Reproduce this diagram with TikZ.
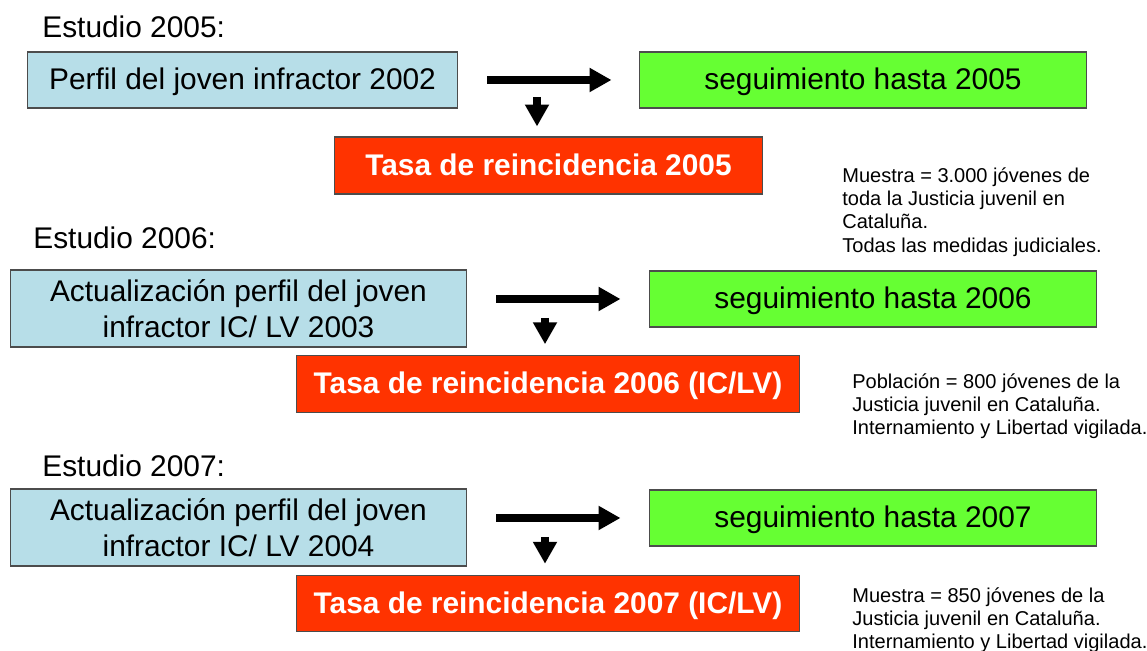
\documentclass[tikz,border=0pt]{standalone}
\usepackage{fontspec}
\setmainfont{Liberation Sans}
\usetikzlibrary{arrows.meta}
\usetikzlibrary{positioning}

\definecolor{perfilazul}{HTML}{B7DEE8}
\definecolor{seguiverde}{HTML}{66FF33}
\definecolor{tasarojo}{HTML}{FF3300}

\begin{document}
\begin{tikzpicture}[x=0.02cm,y=-0.02cm]
\tikzstyle{perfil}=[rectangle,draw=black!70,fill=perfilazul,line width=0.6pt,
inner sep=0pt,minimum width=9.14cm,minimum height=1.54cm,align=center,
font=\fontsize{17}{20.5}\selectfont]
\tikzstyle{seguimiento}=[rectangle,draw=black!70,fill=seguiverde,line width=0.6pt,
inner sep=0pt,minimum width=8.96cm,minimum height=1.12cm,
text height=12.3pt,text depth=1pt,font=\fontsize{17}{20.5}\selectfont]
\tikzstyle{tasa}=[rectangle,draw=black!70,fill=tasarojo,line width=0.6pt,
inner sep=0pt,minimum width=10.08cm,minimum height=1.13cm,text=white,
text height=12.3pt,text depth=1pt,font=\fontsize{17}{20.5}\selectfont\bfseries]
\tikzstyle{estudio}=[anchor=base west,inner sep=0pt,font=\fontsize{17}{20.5}\selectfont]
\tikzstyle{nota}=[anchor=north west,inner sep=0pt,align=left,
font=\fontsize{11.4}{13.3}\selectfont]
\tikzstyle{flecha}=[line width=4.6pt,-{Triangle[length=12.5pt,width=13pt]}]
\useasboundingbox (0,0) rectangle (1147,651);

% Estudio 2005
\node[estudio] (titulo2005) at (42,38) {Estudio 2005:};
\node[perfil,minimum width=8.62cm,minimum height=1.12cm,text height=12.3pt,text depth=1pt] (perfil2005) at (242.5,80) {Perfil del joven infractor 2002};
\node[seguimiento] (seguimiento2005) at (863,80) {seguimiento hasta 2005};
\node[tasa,minimum width=8.58cm,minimum height=1.14cm] (tasa2005) at (548.5,165.5) {Tasa de reincidencia 2005};
\node[nota] (nota2005) at (842,167) {Muestra = 3.000 jóvenes de\\toda la Justicia juvenil en\\Cataluña.\\Todas las medidas judiciales.};
\coordinate (baja2005) at (537,97);
\draw[flecha] ([xshift=0.58cm]perfil2005.east) -- ([xshift=-0.54cm]seguimiento2005.west);
\draw[flecha] (baja2005) -- ([yshift=0.2cm]baja2005 |- tasa2005.north);

% Estudio 2006
\node[estudio] (titulo2006) at (33,249) {Estudio 2006:};
\node[perfil] (perfil2006) at (238.5,308.5) {Actualización perfil del joven\\infractor IC/ LV 2003};
\node[seguimiento] (seguimiento2006) at (873,299) {seguimiento hasta 2006};
\node[tasa] (tasa2006) at (548,384) {Tasa de reincidencia 2006 (IC/LV)};
\node[nota] (nota2006) at (852,373) {Población = 800 jóvenes de la\\Justicia juvenil en Cataluña.\\Internamiento y Libertad vigilada.};
\coordinate (lado2006) at (perfil2006.east |- seguimiento2006.west);
\coordinate (baja2006) at (545,318);
\draw[flecha] ([xshift=0.58cm]lado2006) -- ([xshift=-0.56cm]seguimiento2006.west);
\draw[flecha] (baja2006) -- ([yshift=0.22cm]baja2006 |- tasa2006.north);

% Estudio 2007
\node[estudio] (titulo2007) at (42,477) {Estudio 2007:};
\node[perfil] (perfil2007) at (238.5,527.5) {Actualización perfil del joven\\infractor IC/ LV 2004};
\node[seguimiento] (seguimiento2007) at (873,518) {seguimiento hasta 2007};
\node[tasa] (tasa2007) at (548,603.5) {Tasa de reincidencia 2007 (IC/LV)};
\node[nota] (nota2007) at (852,587) {Muestra = 850 jóvenes de la\\Justicia juvenil en Cataluña.\\Internamiento y Libertad vigilada.};
\coordinate (lado2007) at (perfil2007.east |- seguimiento2007.west);
\coordinate (baja2007) at (545,537);
\draw[flecha] ([xshift=0.58cm]lado2007) -- ([xshift=-0.56cm]seguimiento2007.west);
\draw[flecha] (baja2007) -- ([yshift=0.22cm]baja2007 |- tasa2007.north);
\end{tikzpicture}
\end{document}
